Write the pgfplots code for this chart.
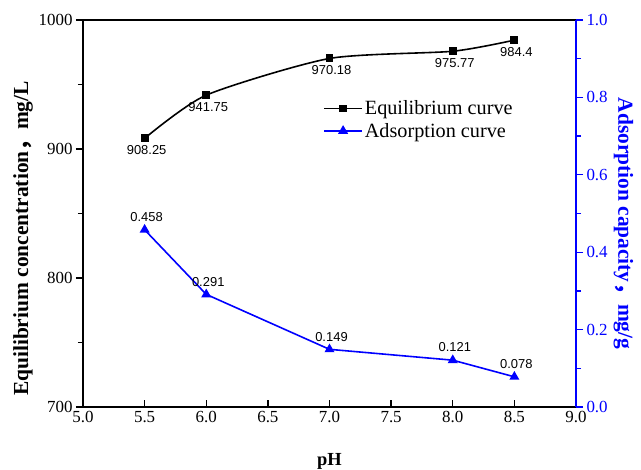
\documentclass[border=0pt]{standalone}
\usepackage{pgfplots}
\pgfplotsset{compat=1.18}
\usepackage{fontspec}
\setmainfont{Liberation Serif}
\newfontfamily\arial{Liberation Sans}
\newfontfamily\cjk{Noto Sans CJK SC}
\definecolor{myblue}{RGB}{0,0,255}
\pgfplotsset{
  common/.style={scale only axis, width=493bp, height=387bp,
    at={(0,0)}, anchor=south west, xmin=5, xmax=9, clip=false,
    major tick length=7bp, minor tick length=5bp,
    /pgf/number format/assume math mode=true},
}
\begin{document}
\begin{tikzpicture}
\useasboundingbox (-83bp,-63bp) rectangle (558bp,407bp);
% x axis with top frame line
\begin{axis}[common, ymin=0, ymax=1,
  xtick={5,5.5,6,6.5,7,7.5,8,8.5,9},
  ytick=\empty,
  xtick pos=lower,
  tick align=inside,
  axis line style={line width=1.3pt},
  every tick/.append style={black, line width=1.3pt},
  xticklabel style={/pgf/number format/fixed,/pgf/number format/fixed zerofill,/pgf/number format/precision=1, font=\fontsize{17}{19}\selectfont, yshift=-1bp},
  xlabel={\textbf{pH}},
  xlabel style={font=\fontsize{18.5}{20}\selectfont, yshift=-24bp},
]
\end{axis}
% left y axis and equilibrium curve
\begin{axis}[common, ymin=700, ymax=1000,
  axis x line=none, axis y line*=left,
  ytick={700,800,900,1000},
  minor ytick={750,850,950},
  tick align=outside,
  y axis line style={line width=1.3pt, -},
  every tick/.append style={black, line width=1.3pt},
  yticklabel style={/pgf/number format/set thousands separator={}, font=\fontsize{17}{19}\selectfont},
  ylabel={\textbf{Equilibrium concentration{\cjk ，}mg/L}},
  ylabel style={font=\fontsize{21.5}{23}\selectfont, yshift=-1bp, xshift=-25bp},
]
\addplot[black, line width=1.6pt, smooth, tension=0.4, mark=square*, mark size=3.2bp, mark options={solid},
  nodes near coords, point meta=explicit symbolic,
  nodes near coords align={below},
  every node near coord/.append style={font=\arial\fontsize{13}{15}\selectfont, black, yshift=-3bp, xshift=2bp}]
  coordinates {(5.5,908.25)[908.25] (6.0,941.75)[941.75] (7.0,970.18)[970.18] (8.0,975.77)[975.77] (8.5,984.4)[984.4]};
\end{axis}
% right y axis and adsorption curve
\begin{axis}[common, ymin=0, ymax=1,
  axis x line=none,
  axis y line*=right,
  ytick={0,0.2,0.4,0.6,0.8,1.0},
  minor ytick={0.1,0.3,0.5,0.7,0.9},
  tick align=outside,
  y axis line style={line width=1.3pt, myblue, -},
  every tick/.append style={myblue, line width=1.3pt},
  yticklabel style={/pgf/number format/fixed,/pgf/number format/fixed zerofill,/pgf/number format/precision=1, font=\fontsize{17}{19}\selectfont, text=myblue},
  ylabel={\textbf{Adsorption capacity{\cjk ，}mg/g}},
  ylabel style={font=\fontsize{21.5}{23}\selectfont, text=myblue, rotate=180, yshift=-1bp, xshift=10bp},
  legend style={at={(0.485,0.80)}, anchor=north west, draw=none, fill=none, font=\fontsize{20.3}{22}\selectfont, row sep=3bp, inner sep=1bp},
  legend image code/.code={\draw[mark repeat=2,mark phase=2] plot coordinates {(0bp,0bp) (19bp,0bp) (38bp,0bp)};},
  legend cell align=left,
]
\addlegendimage{black, line width=1.6pt, mark=square*, mark size=3bp}
\addlegendentry{Equilibrium curve}
\addplot[myblue, line width=1.6pt, mark=triangle*, mark size=4.2bp,
  nodes near coords, point meta=explicit symbolic,
  nodes near coords align={above},
  every node near coord/.append style={font=\arial\fontsize{13}{15}\selectfont, black, yshift=4bp, xshift=2bp}]
  coordinates {(5.5,0.458)[0.458] (6.0,0.291)[0.291] (7.0,0.149)[0.149] (8.0,0.121)[0.121] (8.5,0.078)[0.078]};
\addlegendentry{Adsorption curve}
\end{axis}
\end{tikzpicture}
\end{document}
